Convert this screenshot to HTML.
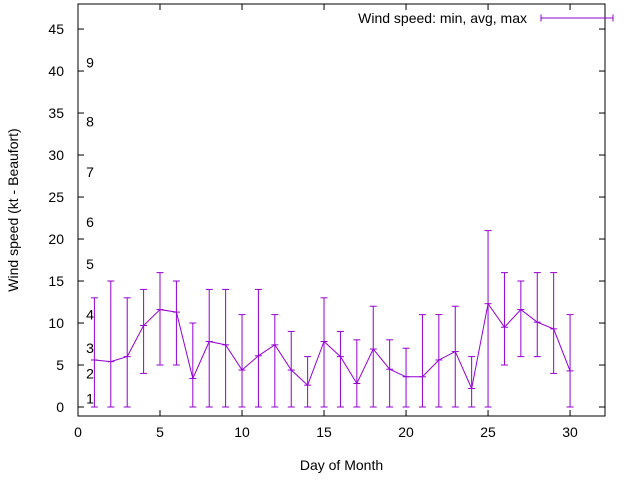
<!DOCTYPE html>
<html><head><meta charset="utf-8"><style>
body{margin:0;background:#fff;}
svg{font-family:"Liberation Sans",sans-serif;}
</style></head><body>
<svg id="chart" width="640" height="480" xmlns="http://www.w3.org/2000/svg">
<rect x="0" y="0" width="640" height="480" fill="#fff"/>
<g id="grid"></g>
<g id="marks"></g>
</svg>
<script>
const days=[1,2,3,4,5,6,7,8,9,10,11,12,13,14,15,16,17,18,19,20,21,22,23,24,25,26,27,28,29,30];
const avgSpeed=[5.6,5.4,6.0,9.7,11.6,11.3,3.4,7.8,7.4,4.4,6.1,7.4,4.4,2.6,7.8,6.0,2.8,6.9,4.5,3.6,3.6,5.6,6.6,2.2,12.3,9.5,11.6,10.1,9.3,4.3];
const minSpeed=[0,0,0,4,5,5,0,0,0,0,0,0,0,0,0,0,0,0,0,0,0,0,0,0,0,5,6,6,4,0];
const maxSpeed=[13,15,13,14,16,15,10,14,14,11,14,11,9,6,13,9,8,12,8,7,11,11,12,6,21,16,15,16,16,11];
const xTicks=[0,5,10,15,20,25,30];
const yTicks=[0,5,10,15,20,25,30,35,40,45];
const beaufortLevels=[1,4,7,11,17,22,28,34,41];
const beaufortLabels=["1","2","3","4","5","6","7","8","9"];

const L=78,R=605,T=4,B=416;
const xMin=0,xMax=32.13,yMin=-1.07,yMax=47.98;
const X=v=>L+(v-xMin)/(xMax-xMin)*(R-L);
const Y=v=>B-(v-yMin)/(yMax-yMin)*(B-T);
const NS="http://www.w3.org/2000/svg";
const svg=document.getElementById('chart');
const g=document.getElementById('grid');
const m=document.getElementById('marks');
function mk(tag,attrs,parent){const e=document.createElementNS(NS,tag);for(const k in attrs)e.setAttribute(k,attrs[k]);parent.appendChild(e);return e;}

const frame=mk('rect',{x:L,y:T,width:R-L,height:B-T,fill:'none',stroke:'#000','stroke-width':1},g);



xTicks.forEach(t=>{
  const x=X(t);
  mk('line',{x1:x,y1:B,x2:x,y2:B-6,stroke:'#000'},g);
  mk('line',{x1:x,y1:T,x2:x,y2:T+6,stroke:'#000'},g);
  const tx=mk('text',{x:x,y:B+21,'text-anchor':'middle','font-size':14},g);
  tx.textContent=t;
  
  
});
yTicks.forEach(t=>{
  const y=Y(t);
  mk('line',{x1:L,y1:y,x2:L+6,y2:y,stroke:'#000'},g);
  mk('line',{x1:R,y1:y,x2:R-6,y2:y,stroke:'#000'},g);
  const tx=mk('text',{x:L-14,y:y+5,'text-anchor':'end','font-size':14},g);
  tx.textContent=t;
  
  
});
beaufortLevels.forEach((v,i)=>{
  const tx=mk('text',{x:90,y:Y(v)+5,'text-anchor':'middle','font-size':14},g);
  tx.textContent=beaufortLabels[i];
  
  
});
const xt=mk('text',{x:(L+R)/2,y:470,'text-anchor':'middle','font-size':14},g);
xt.textContent='Day of Month';


const yt=mk('text',{x:0,y:0,'text-anchor':'middle','font-size':14,transform:'translate(18,210) rotate(-90)'},g);
yt.textContent='Wind speed (kt - Beaufort)';



const col='#9400d3';
days.forEach((d,i)=>{
  const x=X(d),y1=Y(minSpeed[i]),y2=Y(maxSpeed[i]);
  const eb=mk('g',{stroke:col,'stroke-width':1},m);
  
  
  mk('line',{x1:x,y1:y1,x2:x,y2:y2},eb);
  mk('line',{x1:x-3.5,y1:y1,x2:x+3.5,y2:y1},eb);
  mk('line',{x1:x-3.5,y1:y2,x2:x+3.5,y2:y2},eb);
  mk('line',{x1:x-3.5,y1:Y(avgSpeed[i]),x2:x+3.5,y2:Y(avgSpeed[i])},eb);
});
const pts=days.map((d,i)=>X(d)+','+Y(avgSpeed[i])).join(' ');
const pl=mk('polyline',{points:pts,fill:'none',stroke:col,'stroke-width':1},m);



const lg=mk('g',{},m);


const lt=mk('text',{x:527,y:23,'text-anchor':'end','font-size':14},lg);
lt.textContent='Wind speed: min, avg, max';
mk('line',{x1:541,y1:18,x2:613,y2:18,stroke:col},lg);
mk('line',{x1:541,y1:14.5,x2:541,y2:21.5,stroke:col},lg);
mk('line',{x1:613,y1:14.5,x2:613,y2:21.5,stroke:col},lg);
</script>
</body></html>
